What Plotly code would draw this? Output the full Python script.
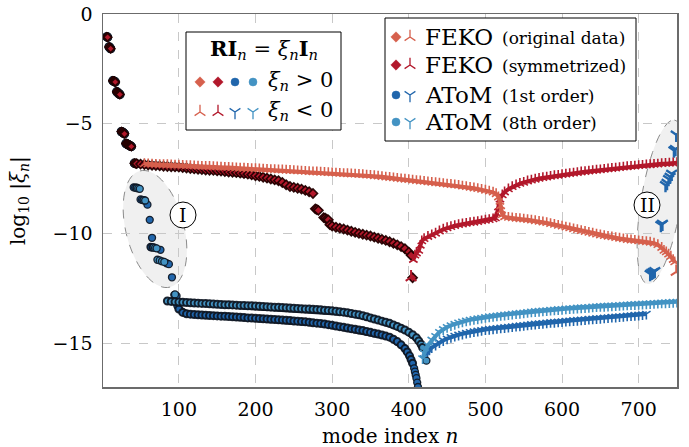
import numpy as np
import plotly.graph_objects as go

# ---------------- data ----------------
# dominant modes (all solvers agree)
lead_n = [6, 7, 9, 10, 11, 14, 15, 16, 17, 19, 20, 21, 22, 23, 25, 26, 27, 28, 29,
          31, 32, 33, 34, 35, 36, 37, 38, 42, 44]
lead_v = [-1.04, -1.06, -1.50, -1.54, -1.58, -3.04, -3.06, -3.08, -3.10, -3.54, -3.58, -3.61,
          -3.64, -3.67, -5.36, -5.38, -5.40, -5.43, -5.46, -5.90, -5.92, -5.94, -5.96, -5.98,
          -6.00, -6.02, -6.04, -6.80, -6.82]

# AToM 1st order, xi > 0
a1_c1_n = [41, 43, 45, 50, 52, 54, 59, 62, 65, 63, 64, 66, 76, 84, 87, 91, 94, 97, 98]
a1_c1_v = [-7.90, -7.91, -7.92, -8.45, -8.47, -8.49, -8.69, -9.38, -10.20, -10.62, -10.63, -10.64,
           -10.75, -11.36, -11.40, -12.00, -12.80, -12.85, -13.30]
a1_pos_n = list(range(100, 376, 5)) + [380, 385, 390, 395, 398, 401, 403, 405]
a1_pos_v = [-13.45, -13.60, -13.66, -13.68, -13.70, -13.71, -13.72, -13.73, -13.74, -13.75,
            -13.76, -13.77, -13.78, -13.79, -13.80, -13.81, -13.82, -13.83, -13.85, -13.86,
            -13.87, -13.88, -13.89, -13.90, -13.91, -13.92, -13.94, -13.95, -13.96, -13.97,
            -13.99, -14.00, -14.02, -14.03, -14.05, -14.07, -14.09, -14.11, -14.13, -14.16,
            -14.19, -14.22, -14.25, -14.28, -14.31, -14.34, -14.37, -14.40, -14.43, -14.47,
            -14.51, -14.55, -14.59, -14.63, -14.68, -14.73,
            -14.82, -14.93, -15.08, -15.25, -15.40, -15.58, -15.75, -15.92]
a1_dip_n = [407, 408, 409, 410, 411, 412]
a1_dip_v = [-16.15, -16.30, -16.45, -16.60, -16.80, -17.00]

# AToM 1st order, xi < 0
a1_neg_n = [420, 423, 427] + list(range(430, 711, 5))
a1_neg_v = [-15.70, -15.50, -15.30,
            -15.20, -15.08, -14.97, -14.88, -14.80, -14.73, -14.67, -14.62, -14.58, -14.54,
            -14.50, -14.47, -14.44, -14.41, -14.38, -14.36, -14.34, -14.32, -14.30, -14.28,
            -14.26, -14.24, -14.22, -14.20, -14.18, -14.16, -14.14, -14.12, -14.10, -14.09,
            -14.07, -14.05, -14.04, -14.02, -14.01, -13.99, -13.98, -13.96, -13.95, -13.93,
            -13.92, -13.90, -13.89, -13.87, -13.86, -13.84, -13.83, -13.81, -13.80, -13.78,
            -13.77, -13.75, -13.74, -13.72, -13.71, -13.69, -13.67]
a1_c2_n = [715, 717, 719, 721, 729, 731, 735, 737, 739, 741, 743, 746, 748, 749]
a1_c2_v = [-11.85, -11.80, -11.76, -11.72, -9.62, -9.56, -7.80, -7.70, -7.52, -7.42, -7.28,
           -6.22, -6.16, -5.50]

# AToM 8th order, xi > 0
a8_c1_n = [45, 47, 49, 54, 56, 67, 69, 71, 72, 75, 78, 81, 95]
a8_c1_v = [-7.93, -7.95, -7.97, -8.48, -8.50, -10.64, -10.66, -10.68, -11.20, -11.23, -11.27,
           -11.30, -12.78]
a8_pos_n = list(range(85, 411, 5)) + [413, 416, 418]
a8_pos_v = [-13.08, -13.10, -13.12, -13.13, -13.14, -13.15, -13.16, -13.17, -13.18, -13.19,
            -13.20, -13.21, -13.22, -13.23, -13.24, -13.25, -13.25, -13.26, -13.27, -13.28,
            -13.29, -13.30, -13.30, -13.31, -13.32, -13.33, -13.34, -13.35, -13.36, -13.37,
            -13.38, -13.39, -13.40, -13.41, -13.42, -13.43, -13.44, -13.45, -13.46, -13.47,
            -13.48, -13.50, -13.51, -13.53, -13.55, -13.57, -13.59, -13.62, -13.65, -13.68,
            -13.71, -13.75, -13.80, -13.85, -13.90, -13.95, -14.00, -14.05, -14.10, -14.17,
            -14.24, -14.32, -14.40, -14.50, -14.62, -14.76,
            -14.90, -15.05, -15.20]
a8_dip_n = [423]
a8_dip_v = [-15.80]

# AToM 8th order, xi < 0
a8_neg_n = [418, 420, 422, 425] + list(range(430, 751, 5))
a8_neg_v = [-15.70, -15.45, -15.25, -15.10,
            -14.85, -14.68, -14.50, -14.37, -14.27, -14.19, -14.13, -14.07, -14.02, -13.98,
            -13.94, -13.91, -13.88, -13.85, -13.82, -13.79, -13.77, -13.75, -13.73, -13.71,
            -13.69, -13.67, -13.65, -13.63, -13.61, -13.59, -13.57, -13.55, -13.54, -13.52,
            -13.51, -13.49, -13.48, -13.46, -13.45, -13.43, -13.42, -13.41, -13.39, -13.38,
            -13.37, -13.36, -13.34, -13.33, -13.32, -13.31, -13.30, -13.29, -13.28, -13.27,
            -13.26, -13.25, -13.24, -13.23, -13.22, -13.21, -13.20, -13.19, -13.18, -13.17,
            -13.16, -13.15, -13.14, -13.13, -13.12]

# FEKO symmetrized, xi > 0
fs_pos_n = list(range(45, 276, 5))
fs_pos_v = [-6.82, -6.84, -6.86, -6.88, -6.90, -6.91, -6.92, -6.94, -6.95, -6.96,
            -6.97, -6.98, -7.00, -7.02, -7.04, -7.06, -7.08, -7.09, -7.11, -7.12,
            -7.13, -7.15, -7.16, -7.18, -7.20, -7.21, -7.23, -7.25, -7.27, -7.30,
            -7.33, -7.37, -7.40, -7.44, -7.48, -7.52, -7.56, -7.60, -7.68, -7.78,
            -7.86, -7.90, -7.94, -7.98, -8.04, -8.10, -8.18]
fs_mid_n = [278, 280, 282, 289, 291, 293, 295, 405]
fs_mid_v = [-8.88, -8.91, -8.95, -9.28, -9.31, -9.35, -9.38, -12.02]
fs_pos2_n = [297] + list(range(300, 401, 5)) + [403]
fs_pos2_v = [-9.60, -9.66, -9.72, -9.76, -9.80, -9.85, -9.90, -9.95, -10.00, -10.04, -10.08,
             -10.12, -10.17, -10.22, -10.27, -10.32, -10.38, -10.45, -10.52, -10.60, -10.70,
             -10.85, -11.00]

# FEKO symmetrized, xi < 0
fs_neg_iso_n = [403]
fs_neg_iso_v = [-12.00]
fs_neg_n = ([406, 408, 410, 413, 415, 417, 420] + list(range(425, 511, 5))
            + [513, 515, 517, 519, 522] + list(range(525, 751, 5)))
fs_neg_v = ([-11.20, -11.00, -10.90, -10.78, -10.55, -10.35, -10.25]
            + [-10.15, -10.08, -10.00, -9.90, -9.82, -9.75, -9.70, -9.65, -9.61, -9.58,
               -9.55, -9.52, -9.50, -9.47, -9.44, -9.41, -9.38, -9.35]
            + [-9.30, -9.10, -8.80, -8.45, -8.25]
            + [-8.12, -7.98, -7.88, -7.80, -7.73, -7.68, -7.62, -7.58, -7.54, -7.50,
               -7.47, -7.44, -7.41, -7.38, -7.36, -7.33, -7.31, -7.28, -7.26, -7.24,
               -7.21, -7.19, -7.17, -7.15, -7.13, -7.11, -7.09, -7.07, -7.05, -7.03,
               -7.01, -6.99, -6.97, -6.95, -6.94, -6.92, -6.91, -6.89, -6.88, -6.86,
               -6.85, -6.83, -6.82, -6.81, -6.80, -6.78])

# FEKO original data, xi < 0
fo_neg_n = (list(range(55, 511, 5)) + [514, 517, 519, 520, 521, 522]
            + list(range(525, 721, 5)) + [725, 730, 733, 736, 739, 742, 745, 747])
fo_neg_v = ([-6.83, -6.84, -6.85, -6.86, -6.87, -6.87, -6.88, -6.89, -6.90, -6.90,
             -6.91, -6.92, -6.92, -6.93, -6.94, -6.95, -6.95, -6.96, -6.97, -6.98,
             -6.99, -7.00, -7.00, -7.01, -7.02, -7.03, -7.04, -7.05, -7.06, -7.06,
             -7.07, -7.08, -7.09, -7.10, -7.10, -7.11, -7.12, -7.13, -7.14, -7.15,
             -7.16, -7.17, -7.18, -7.19, -7.20, -7.21, -7.22, -7.23, -7.24, -7.25,
             -7.26, -7.27, -7.28, -7.29, -7.30, -7.31, -7.32, -7.33, -7.35, -7.36,
             -7.38, -7.40, -7.42, -7.44, -7.46, -7.48, -7.50, -7.52, -7.54, -7.56,
             -7.58, -7.60, -7.62, -7.64, -7.66, -7.68, -7.70, -7.72, -7.74, -7.76,
             -7.78, -7.80, -7.82, -7.85, -7.88, -7.91, -7.94, -7.97, -8.00, -8.04,
             -8.08, -8.13]
            + [-8.20, -8.35, -8.55, -8.75, -8.95, -9.15]
            + [-9.25, -9.28, -9.30, -9.32, -9.34, -9.36, -9.38, -9.40, -9.43, -9.46,
               -9.49, -9.52, -9.56, -9.60, -9.64, -9.68, -9.72, -9.76, -9.80, -9.84,
               -9.88, -9.92, -9.96, -10.00, -10.04, -10.08, -10.11, -10.14, -10.17, -10.20,
               -10.23, -10.26, -10.29, -10.31, -10.33, -10.35, -10.37, -10.39, -10.41, -10.45]
            + [-10.52, -10.65, -10.78, -10.85, -10.95, -11.05, -11.20, -11.31])
fo_iso_n = [749]
fo_iso_v = [-11.75]

x_ticks = [100, 200, 300, 400, 500, 600, 700]
y_ticks = [0, -5, -10, -15]

# ---------------- styling ----------------
C_ORIG = "#d6604d"
C_SYM = "#b2182b"
C_A1 = "#2166ac"
C_A8 = "#4393c3"
FONT = "DejaVu Serif"
EDGE = "rgba(14,22,34,0.92)"
EDGE_R = "rgba(35,0,0,0.95)"

fig = go.Figure()

def circ(n, v, c, band=False, size=7):
    return go.Scatter(x=n, y=v, mode="lines+markers" if band else "markers",
                      showlegend=False, hoverinfo="skip",
                      line=dict(color=EDGE, width=7),
                      marker=dict(symbol="circle", size=size, color=c,
                                  line=dict(color=EDGE, width=2 if band else 1.3)))

def diam(n, v, c, edge, band=False, size=7):
    return go.Scatter(x=n, y=v, mode="lines+markers" if band else "markers",
                      showlegend=False, hoverinfo="skip",
                      line=dict(color=edge, width=6),
                      marker=dict(symbol="diamond", size=size, color=c,
                                  line=dict(color=edge, width=1.6)))

def tri(n, v, c, sym, band=False, size=7, lw=1.6):
    return go.Scatter(x=n, y=v, mode="lines+markers" if band else "markers",
                      showlegend=False, hoverinfo="skip",
                      line=dict(color=c, width=4),
                      marker=dict(symbol=sym, size=size, color=c,
                                  line=dict(color=c, width=lw)))

# AToM (drawn first)
fig.add_trace(circ(lead_n, lead_v, C_A1, size=8))
fig.add_trace(circ(a1_c1_n, a1_c1_v, C_A1))
fig.add_trace(circ(a1_pos_n, a1_pos_v, C_A1, band=True))
fig.add_trace(circ(a1_dip_n, a1_dip_v, C_A1))
fig.add_trace(tri(a1_neg_n, a1_neg_v, C_A1, "y-down", band=True))
fig.add_trace(tri(a1_c2_n, a1_c2_v, C_A1, "y-down", size=9, lw=2.4))
fig.add_trace(circ(lead_n, lead_v, C_A8, size=8))
fig.add_trace(circ(a8_c1_n, a8_c1_v, C_A8))
fig.add_trace(circ(a8_pos_n, a8_pos_v, C_A8, band=True))
fig.add_trace(circ(a8_dip_n, a8_dip_v, C_A8))
fig.add_trace(tri(a8_neg_n, a8_neg_v, C_A8, "y-down", band=True))
# FEKO
fig.add_trace(diam(lead_n, lead_v, C_ORIG, EDGE_R, size=6))
fig.add_trace(diam(lead_n, lead_v, C_SYM, EDGE_R, size=6))
fig.add_trace(diam(fs_pos_n, fs_pos_v, C_SYM, EDGE_R, band=True))
fig.add_trace(diam(fs_mid_n, fs_mid_v, C_SYM, EDGE_R))
fig.add_trace(diam(fs_pos2_n, fs_pos2_v, C_SYM, EDGE_R, band=True))
fig.add_trace(tri(fs_neg_iso_n, fs_neg_iso_v, C_SYM, "y-up", size=9, lw=2))
fig.add_trace(tri(fs_neg_n, fs_neg_v, C_SYM, "y-up", band=True))
fig.add_trace(tri(fo_neg_n, fo_neg_v, C_ORIG, "y-up", band=True))
fig.add_trace(tri(fo_iso_n, fo_iso_v, C_ORIG, "y-up", size=9, lw=2))

# ---------------- decorations (overlay axis in pixel units) ----------------
L, R, T, B = 103, 677, 14, 387

def ellipse_path(cx, cy, a, b, ang_deg, n=72):
    t = np.linspace(0, 2 * np.pi, n, endpoint=False)
    ang = np.deg2rad(ang_deg)
    ex = a * np.cos(t)
    ey = b * np.sin(t)
    px = cx + ex * np.cos(ang) - ey * np.sin(ang)
    py = cy + ex * np.sin(ang) + ey * np.cos(ang)
    pts = " L ".join(f"{x:.2f},{y:.2f}" for x, y in zip(px, py))
    return "M " + pts + " Z"

shapes = []
shapes.append(dict(type="path", xref="x2", yref="y2", layer="below",
                   path=ellipse_path(155, 229, 60, 29, 75.5),
                   fillcolor="#f0f0f0", line=dict(color="#8a8a8a", width=1, dash="dash")))
shapes.append(dict(type="path", xref="x2", yref="y2", layer="below",
                   path=ellipse_path(661, 202, 83, 20, -80.7),
                   fillcolor="#f0f0f0", line=dict(color="#8a8a8a", width=1, dash="dash")))
for cx, cy in [(183, 215), (647, 205)]:
    shapes.append(dict(type="circle", xref="x2", yref="y2", layer="above",
                       x0=cx - 13, x1=cx + 13, y0=cy - 13, y1=cy + 13,
                       fillcolor="white", line=dict(color="black", width=1)))

def box(x0, y0, x1, y1):
    return go.Scatter(x=[x0, x1, x1, x0, x0], y=[y0, y0, y1, y1, y0], xaxis="x2", yaxis="y2",
                      mode="lines", fill="toself", fillcolor="white",
                      line=dict(color="black", width=1), showlegend=False, hoverinfo="skip")

fig.add_trace(box(186, 32, 341, 130))
fig.add_trace(box(385, 18, 636, 141))

def lm(x, y, sym, c, size, lw=1.0):
    return go.Scatter(x=[x], y=[y], xaxis="x2", yaxis="y2", mode="markers",
                      marker=dict(symbol=sym, size=size, color=c, line=dict(color=c, width=lw)),
                      showlegend=False, hoverinfo="skip")

for x, c in [(200, C_ORIG), (218, C_SYM)]:
    fig.add_trace(lm(x, 82, "diamond", c, 8, 0.5))
    fig.add_trace(lm(x, 112, "y-up", c, 9, 1.3))
for x, c in [(235, C_A1), (253, C_A8)]:
    fig.add_trace(lm(x, 82, "circle", c, 8, 0.5))
    fig.add_trace(lm(x, 112, "y-down", c, 9, 1.3))

rows = [(37, C_ORIG, "diamond", "y-up", "FEKO", "(original data)"),
        (65, C_SYM, "diamond", "y-up", "FEKO", "(symmetrized)"),
        (95, C_A1, "circle", "y-down", "AToM", "(1st order)"),
        (122, C_A8, "circle", "y-down", "AToM", "(8th order)")]
annotations = []
for y, c, s1, s2, big, small in rows:
    fig.add_trace(lm(396, y, s1, c, 8, 0.5))
    fig.add_trace(lm(410, y, s2, c, 9, 1.3))
    annotations.append(dict(x=423, y=y, xref="x2", yref="y2", text=big, showarrow=False,
                            xanchor="left", yanchor="middle",
                            font=dict(family=FONT, size=23, color="black")))
    annotations.append(dict(x=500, y=y + 1, xref="x2", yref="y2", text=small, showarrow=False,
                            xanchor="left", yanchor="middle",
                            font=dict(family=FONT, size=17, color="black")))

annotations += [
    dict(x=264, y=49, xref="x2", yref="y2", showarrow=False, xanchor="center", yanchor="middle",
         text="<b>RI</b><sub><i>n</i></sub> = <i>ξ</i><sub><i>n</i></sub><b>I</b><sub><i>n</i></sub>",
         font=dict(family=FONT, size=21, color="black")),
    dict(x=266, y=81, xref="x2", yref="y2", showarrow=False, xanchor="left", yanchor="middle",
         text="<i>ξ</i><sub><i>n</i></sub> > 0", font=dict(family=FONT, size=21, color="black")),
    dict(x=266, y=111, xref="x2", yref="y2", showarrow=False, xanchor="left", yanchor="middle",
         text="<i>ξ</i><sub><i>n</i></sub> < 0", font=dict(family=FONT, size=21, color="black")),
    dict(x=183, y=215, xref="x2", yref="y2", showarrow=False, text="I",
         font=dict(family=FONT, size=19, color="black")),
    dict(x=647, y=205, xref="x2", yref="y2", showarrow=False, text="II",
         font=dict(family=FONT, size=19, color="black")),
    dict(x=0.5, y=-0.132, xref="paper", yref="paper", showarrow=False, yanchor="middle",
         text="mode index <i>n</i>", font=dict(family=FONT, size=20, color="black")),
    dict(x=-0.147, y=0.5, xref="paper", yref="paper", showarrow=False, textangle=-90,
         xanchor="center", yanchor="middle",
         text="log<sub>10</sub> |<i>ξ</i><sub><i>n</i></sub>|",
         font=dict(family=FONT, size=20, color="black")),
]

axis_common = dict(showgrid=True, gridcolor="#c8c8c8", gridwidth=1, griddash="dash",
                   showline=True, linecolor="#6b6b6b", linewidth=1.5, mirror=True,
                   zeroline=False, ticks="outside", ticklen=5, tickcolor="rgba(0,0,0,0)",
                   automargin=False,
                   tickfont=dict(family=FONT, size=19, color="black"))

fig.update_layout(
    width=689, height=447,
    margin=dict(l=L, r=689 - R, t=T, b=447 - B, autoexpand=False),
    paper_bgcolor="white", plot_bgcolor="white",
    xaxis=dict(range=[1, 750], tickvals=x_ticks, **axis_common),
    yaxis=dict(range=[-17, 0], tickvals=y_ticks, **axis_common),
    xaxis2=dict(range=[L, R], overlaying="x", visible=False, fixedrange=True),
    yaxis2=dict(range=[B, T], overlaying="y", visible=False, fixedrange=True),
    shapes=shapes, annotations=annotations, showlegend=False,
)

fig.write_html("out.html", config={"displayModeBar": False, "staticPlot": True},
               post_script="document.body.style.margin='0';document.body.style.overflow='hidden';")
